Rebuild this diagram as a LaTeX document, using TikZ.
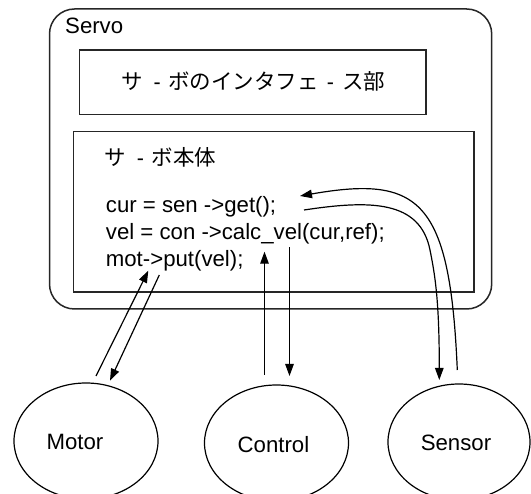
\documentclass[tikz,border=0pt]{standalone}
\usepackage{fontspec}
\setmainfont{Liberation Sans}
\newfontfamily\cjk{Noto Sans CJK JP}
\usetikzlibrary{arrows.meta,shapes.geometric}
\newcommand\jdashA{\hspace{10.5pt}-\hspace{7.5pt}}
\newcommand\jdashB{\hspace{8pt}-\hspace{8pt}}
\tikzset{
  boxline/.style={draw=black!85, line width=1.5pt},
  conn/.style={draw=black, line width=1.2pt},
  tip/.style={-{Triangle[length=12pt,width=8.5pt]}},
  ell/.style={draw=black, line width=1.2pt, ellipse, minimum width=144pt, minimum height=116pt, inner sep=0pt},
  code/.style={anchor=base west, inner sep=0pt},
  jtext/.style={anchor=west, inner sep=0pt, font=\fontsize{21.5pt}{27pt}\selectfont},
}
\begin{document}
\begin{tikzpicture}[x=1pt,y=-1pt,font=\fontsize{22.2pt}{27pt}\selectfont]
\useasboundingbox (0,0) rectangle (531,494);
% outer
\draw[boxline, rounded corners=25pt] (49.5,9) rectangle (491.7,309);
\node[code] (servo) at (65,33.3) {Servo};
% interface box
\draw[boxline] (79.3,50) rectangle (426,114.3);
\node[jtext] (iface) at (121.5,81.5) {{\cjk サ}\jdashA{\cjk ボのインタフェ}\jdashB{\cjk ス部}};
% body box
\draw[boxline] (73.3,131.7) rectangle (474,292);
\node[jtext] (body) at (104.7,157) {{\cjk サ}\jdashA{\cjk ボ本体}};
\node[code] (l1) at (105.7,212.3) {cur = sen ->get();};
\node[code] (l2) at (105.7,239.3) {vel = con ->calc\_vel(cur,ref);};
\node[code] (l3) at (105.7,266.5) {mot->put(vel);};
% ellipses
\node[ell, label={[xshift=-11pt,yshift=-1pt]center:Motor}] (motor) at (86,441) {};
\node[ell, label={[xshift=-3pt,yshift=-2pt]center:Control}] (control) at (276.5,443) {};
\node[ell, minimum width=142pt, label={[xshift=-3pt,yshift=-1pt]center:Sensor}] (sensor) at (459,442) {};
% connector end points
\coordinate (mA) at (96,376);
\coordinate (mB) at (148.3,270.7);
\coordinate (mC) at (159.3,275);
\coordinate (mD) at (110,380.7);
\coordinate (cA) at (264.5,375);
\coordinate (cB) at (264.5,251.7);
\coordinate (cC) at (289.5,247.3);
\coordinate (cD) at (289.5,376);
\coordinate (sA) at (457.3,370);
\coordinate (sB) at (300,196);
\coordinate (sC) at (304,210);
\coordinate (sM) at (430,250);
\coordinate (sD) at (439.3,380);
% connectors
\draw[conn, tip] (mA) -- (mB);
\draw[conn, tip] (mC) -- (mD);
\draw[conn, tip] (cA) -- (cB);
\draw[conn, tip] (cC) -- (cD);
\draw[conn, tip] (sA) .. controls (450,200) and (420,175) .. (sB);
\draw[conn, tip] (sC) .. controls (370,200) and (420,200) .. (sM) .. controls (435,275) and (439.3,300) .. (sD);
\end{tikzpicture}
\end{document}
